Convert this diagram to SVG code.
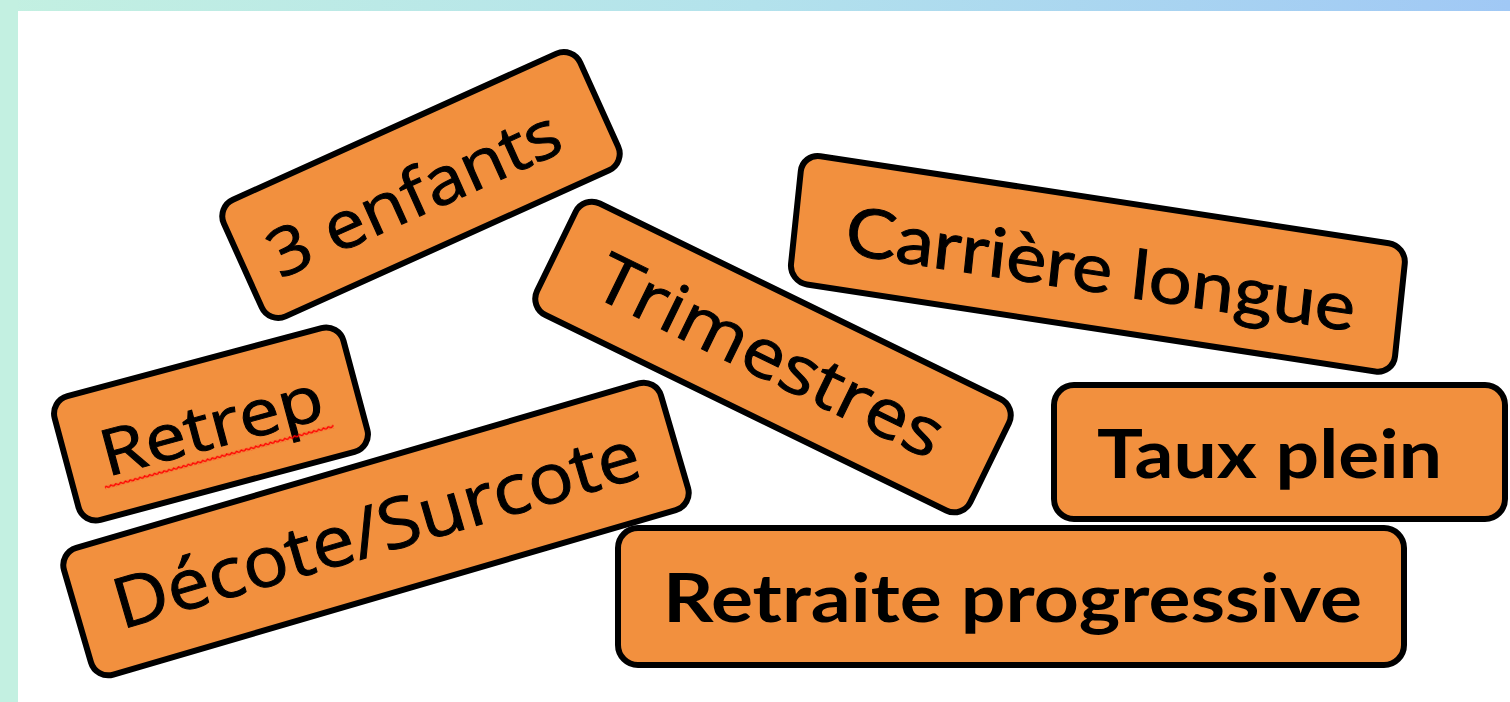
<svg xmlns="http://www.w3.org/2000/svg" width="1510" height="702" viewBox="0 0 1510 702">
  <defs>
    <linearGradient id="band" x1="0" y1="0" x2="1" y2="0">
      <stop offset="0" stop-color="#C3F0E1"/>
      <stop offset="0.5" stop-color="#B3E2EC"/>
      <stop offset="1" stop-color="#A0C8F5"/>
    </linearGradient>
    <pattern id="squiggle" patternUnits="userSpaceOnUse" width="5" height="4">
      <path d="M0 3 L2.5 1 L5 3" fill="none" stroke="#FF0000" stroke-width="1.6"/>
    </pattern>
    <style>
      .box { fill: #F2903E; stroke: #000; stroke-width: 6; }
      .os { font-family: "Open Sans", "Noto Sans", "DejaVu Sans", sans-serif; fill: #000; stroke: #000; stroke-width: 1; }
      .lt { font-family: Lato, "Liberation Sans", sans-serif; fill: #000; }
      .lr { stroke: #000; stroke-width: 1; }
    </style>
  </defs>

  <g id="background">
    <rect x="0" y="0" width="1510" height="702" fill="#FFFFFF"/>
    <rect x="0" y="0" width="1510" height="11" fill="url(#band)"/>
    <rect x="0" y="0" width="18" height="702" fill="#C3F0E1"/>
  </g>

  <g id="connectors"></g>

  <g id="node-3-enfants" transform="translate(421 185) rotate(-24.3)">
    <rect class="box" x="-195.5" y="-64" width="391" height="128" rx="18"/>
    <text class="os" x="-10" y="28" font-size="66" text-anchor="middle" textLength="314" lengthAdjust="spacingAndGlyphs">3 enfants</text>
  </g>

  <g id="node-retrep" transform="translate(211 424) rotate(-15)">
    <rect class="box" x="-149.5" y="-64" width="299" height="128" rx="18"/>
    <text class="os" x="0" y="24" font-size="64" text-anchor="middle" textLength="228" lengthAdjust="spacingAndGlyphs">Retrep</text>
    <rect x="-119" y="32" width="237" height="4" fill="url(#squiggle)"/>
  </g>

  <g id="node-decote-surcote" transform="translate(376 529) rotate(-16.3)">
    <rect class="box" x="-311" y="-66" width="622" height="132" rx="18"/>
    <text class="os" x="0" y="25" font-size="70" text-anchor="middle" textLength="545" lengthAdjust="spacingAndGlyphs">Décote/Surcote</text>
  </g>

  <g id="node-trimestres" transform="translate(773 357) rotate(26)">
    <rect class="box" x="-241" y="-62" width="482" height="124" rx="18"/>
    <text class="os" x="-3" y="24" font-size="68" text-anchor="middle" textLength="378" lengthAdjust="spacingAndGlyphs">Trimestres</text>
  </g>

  <g id="node-carriere-longue" transform="matrix(0.9885 0.1513 -0.1045 0.9945 800 150)">
    <rect class="box" x="3" y="3" width="611" height="129" rx="18"/>
    <text class="lt lr" x="312" y="96" font-size="68" text-anchor="middle" textLength="515" lengthAdjust="spacingAndGlyphs">Carrière longue</text>
  </g>

  <g id="node-taux-plein">
    <rect class="box" x="1054" y="385" width="451" height="134" rx="20"/>
    <text class="lt" x="1097" y="478" font-size="67" font-weight="bold" textLength="345" lengthAdjust="spacingAndGlyphs">Taux plein</text>
  </g>

  <g id="node-retraite-progressive">
    <rect class="box" x="618" y="528" width="786" height="137" rx="20"/>
    <text class="lt" x="663" y="622" font-size="67" font-weight="bold" textLength="699" lengthAdjust="spacingAndGlyphs">Retraite progressive</text>
  </g>
</svg>
